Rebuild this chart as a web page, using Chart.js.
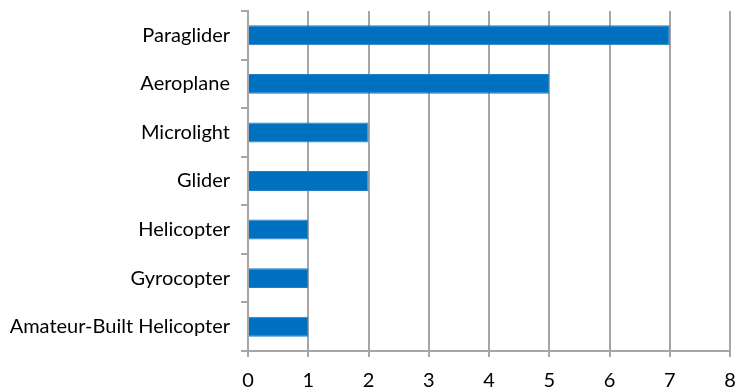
<!DOCTYPE html>
<html>
<head>
<meta charset="utf-8">
<script src="https://cdn.jsdelivr.net/npm/chart.js@4.4.0/dist/chart.umd.min.js"></script>
<style>
  html, body { margin: 0; padding: 0; background: #fff; }
  #wrap { width: 751px; height: 392px; }
</style>
</head>
<body>
<div id="wrap"><canvas id="aircraftChart" width="751" height="392"></canvas></div>
<script>
// === DATA ===
const categories = ["Paraglider", "Aeroplane", "Microlight", "Glider", "Helicopter", "Gyrocopter", "Amateur-Built Helicopter"];
const counts = [7, 5, 2, 2, 1, 1, 1];
const xTicks = [0, 1, 2, 3, 4, 5, 6, 7, 8];

const gridGray = "#a6a6a6";
const labelFont = { family: "Lato, 'Liberation Sans', sans-serif", size: 20 };

const ctx = document.getElementById("aircraftChart").getContext("2d");
new Chart(ctx, {
  type: "bar",
  data: {
    labels: categories,
    datasets: [{
      data: counts,
      backgroundColor: "#0070c0",
      borderColor: "#1f7fc7",
      borderWidth: 1,
      categoryPercentage: 1,
      barPercentage: 0.41
    }]
  },
  options: {
    indexAxis: "y",
    responsive: false,
    animation: false,
    layout: { padding: { top: 11, right: 21, left: 0, bottom: 0 } },
    plugins: { legend: { display: false }, tooltip: { enabled: false } },
    scales: {
      x: {
        min: 0,
        max: 8,
        afterBuildTicks: axis => { axis.ticks = xTicks.map(v => ({ value: v })); },
        afterFit: axis => { axis.height = 41; axis.paddingLeft = 0; axis.paddingRight = 0; },
        grid: { color: gridGray, lineWidth: 2, tickLength: 6 },
        border: { color: gridGray, width: 2 },
        ticks: { color: "#000", font: labelFont, padding: 12 }
      },
      y: {
        afterFit: axis => { axis.width = 248; axis.paddingTop = 0; axis.paddingBottom = 0; },
        grid: { drawOnChartArea: false, color: gridGray, lineWidth: 2, tickLength: 7 },
        border: { color: gridGray, width: 2 },
        ticks: { color: "#000", font: labelFont, padding: 11 }
      }
    }
  }
});
</script>
</body>
</html>
